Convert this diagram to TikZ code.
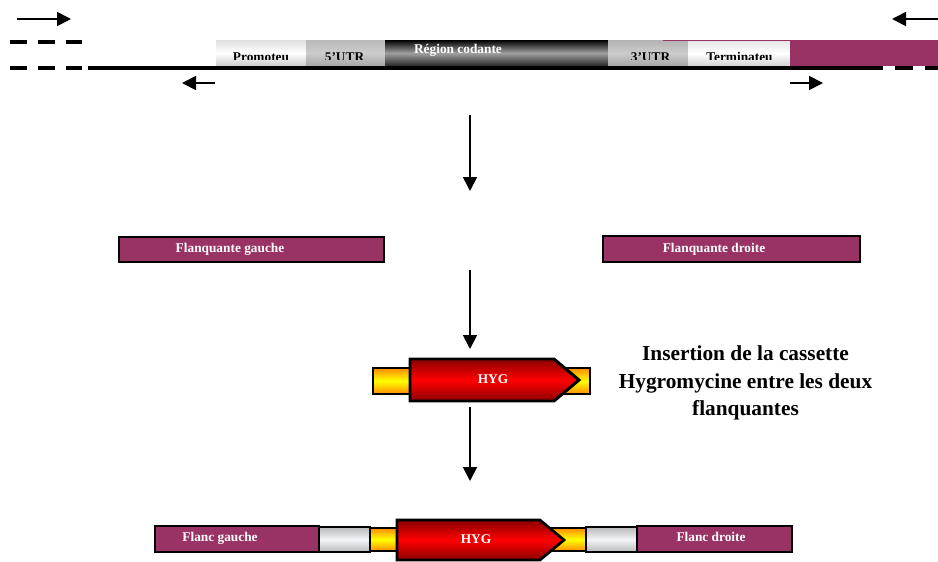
\documentclass[tikz,border=0pt]{standalone}
\usepackage{fontspec}
\setmainfont{Liberation Serif}
\usetikzlibrary{arrows.meta}
\definecolor{mag}{HTML}{993366}
\definecolor{darkred}{HTML}{8A0000}
\definecolor{orng}{HTML}{FF8C00}
\definecolor{ylw}{HTML}{FFFF00}
\definecolor{lgrey}{HTML}{F2F4F8}
\begin{document}
\begin{tikzpicture}[x=0.75pt,y=-0.75pt,
  arr/.style={line width=1.3pt,-{Triangle[length=10.5pt,width=10.5pt]}},
  lab/.style={font=\bfseries\fontsize{10}{12}\selectfont, inner sep=0pt, anchor=base},
  wlab/.style={lab, text=white},
  dashseg/.style={line width=3pt},
  flank/.style={line width=2.2pt, draw=black, fill=mag},
  flanksm/.style={line width=1.6pt, draw=black, fill=mag},
  yel/.style={draw=black, top color=orng, bottom color=orng, middle color=ylw},
  redarr/.style={draw=black, top color=darkred, bottom color=darkred, middle color=red},
  gry/.style={line width=1.6pt, draw=black, top color=gray!55, bottom color=gray!55, middle color=lgrey}
]
\useasboundingbox (0,0) rectangle (938,561);

% ---------- top gene ----------
\shade[top color=gray!25, bottom color=gray!40, middle color=white] (216,40) rectangle (306,66);
\shade[top color=gray!55, bottom color=gray!70, middle color=gray!40] (306,40) rectangle (385,66);
\shade[top color=black, bottom color=black!85, middle color=gray!75] (385,40) rectangle (608,66);
\shade[top color=gray!60, bottom color=gray!70, middle color=gray!40] (608,40) rectangle (688,66);
\shade[top color=gray!20, bottom color=gray!35, middle color=white] (688,40) rectangle (790,66);
\fill[mag] (790,40) rectangle (938,66);
\fill[mag] (663,40) rectangle (790,41.3);

\begin{scope}
  \clip (216,40) rectangle (790,59.5);
  \node[lab] (prom) at (261,61.5) {Promoteu};
  \node[lab] (utr5) at (344.5,61.5) {5’UTR};
  \node[lab] (utr3) at (650.5,61.5) {3’UTR};
  \node[lab] (term) at (739.5,61.5) {Terminateu};
\end{scope}
\node[wlab] (cod) at (458,53) {Région codante};

% baseline and dashes
\draw[line width=3pt] (88,68) -- (867,68);
\foreach \a/\b in {10/27,38/55,66/82}{
  \draw[dashseg] (\a,42) -- (\b,42);
  \draw[dashseg] (\a,68) -- (\b,68);
}
\foreach \a/\b in {867/883,895/913,925/938}{
  \draw[dashseg] (\a,68) -- (\b,68);
}

% primer arrows
\coordinate (p1s) at (17,19);  \coordinate (p1e) at (71,19);
\coordinate (p2s) at (938,19); \coordinate (p2e) at (892,19);
\coordinate (p3s) at (215,83); \coordinate (p3e) at (182,83);
\coordinate (p4s) at (790,83); \coordinate (p4e) at (823,83);
\draw[arr] (p1s) -- (p1e);
\draw[arr] (p2s) -- (p2e);
\draw[arr] (p3s) -- (p3e);
\draw[arr] (p4s) -- (p4e);

% ---------- down arrows ----------
\coordinate (d1s) at (470,115); \coordinate (d1e) at (470,191);
\coordinate (d2s) at (470,270); \coordinate (d2e) at (470,349);
\coordinate (d3s) at (470,407); \coordinate (d3e) at (470,481);
\draw[arr] (d1s) -- (d1e);
\draw[arr] (d2s) -- (d2e);
\draw[arr] (d3s) -- (d3e);

% ---------- flanking regions ----------
\draw[flank] (119,237) rectangle (384,262);
\node[wlab] (fg) at (230,252) {Flanquante gauche};
\draw[flank] (603,236) rectangle (860,262);
\node[wlab] (fd) at (714,252) {Flanquante droite};

% ---------- HYG cassette ----------
\draw[yel, line width=2.2pt] (373,368) rectangle (590,394);
\draw[redarr, line width=2.2pt] (410,359) -- (554,359) -- (579,380) -- (554,401) -- (410,401) -- cycle;
\node[wlab] (hyg1) at (493,383) {HYG};

\node[font=\bfseries\fontsize{16}{20.6}\selectfont, align=center, inner sep=0pt] (ins) at (745.5,383)
  {Insertion de la cassette\\Hygromycine entre les deux\\flanquantes};

% ---------- final construct ----------
\draw[flanksm] (155,526) rectangle (319,552);
\node[wlab] (flg) at (220,541) {Flanc gauche};
\draw[gry] (319,527) rectangle (370,552);
\draw[yel, line width=1.6pt] (370,528) rectangle (586,551);
\draw[redarr, line width=2pt] (397,520) -- (540,520) -- (564,540) -- (540,560) -- (397,560) -- cycle;
\node[wlab] (hyg2) at (476,543) {HYG};
\draw[gry] (586,527) rectangle (637,552);
\draw[flanksm] (637,526) rectangle (792,552);
\node[wlab] (fld) at (711,541) {Flanc droite};
\end{tikzpicture}
\end{document}
